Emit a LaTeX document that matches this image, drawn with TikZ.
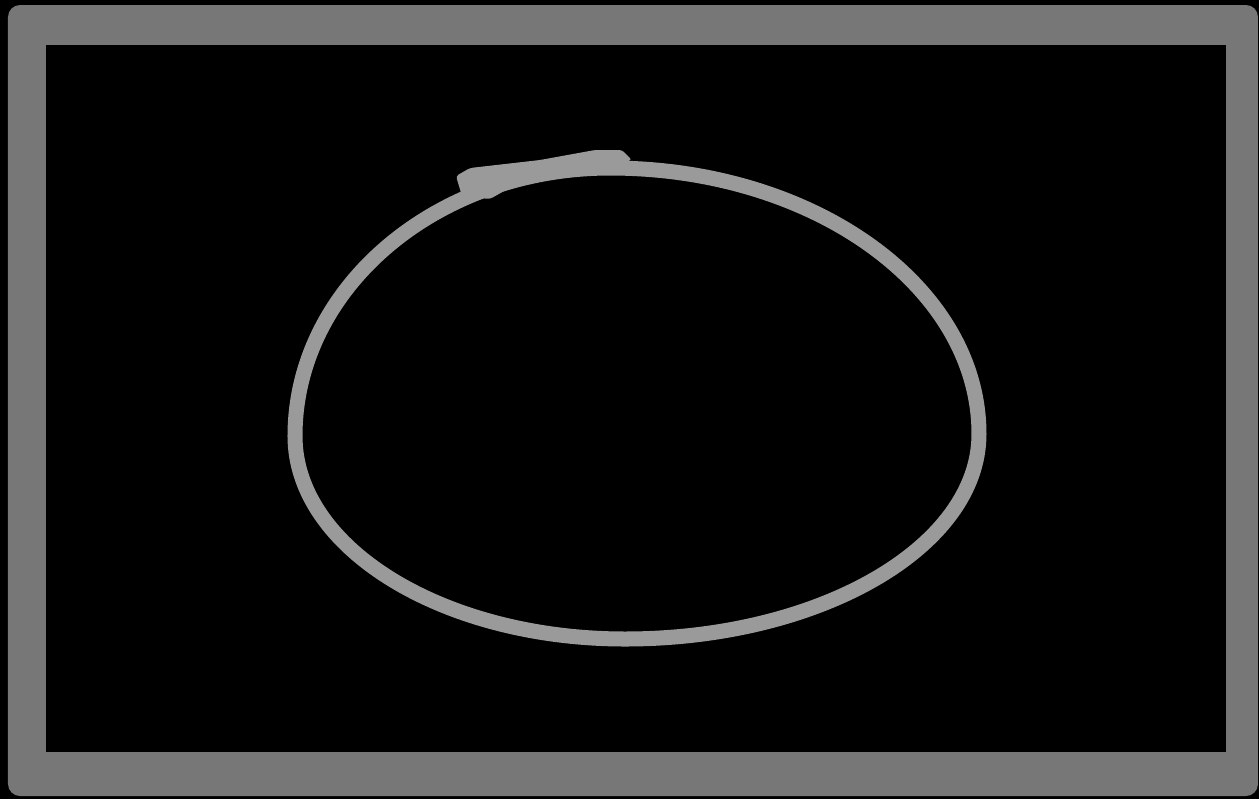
\documentclass[tikz,border=0pt]{standalone}
\definecolor{framegray}{HTML}{777777}
\definecolor{ringgray}{HTML}{9A9A9A}
\tikzset{
  px/.style={x=0.01cm,y=-0.01cm},
  ring/.style={draw=ringgray,line width=0.15cm},
}
\begin{document}
\begin{tikzpicture}[px]
\useasboundingbox (0,0) rectangle (1259,799);
\fill[black] (0,0) rectangle (1259,799);
% frame
\fill[framegray,rounded corners=0.12cm] (8,5) rectangle (1258,796);
\fill[black] (46,45) rectangle (1226,752);
% ring (egg-shaped loop)
\coordinate (L) at (295,436);
\coordinate (T) at (610,168);
\coordinate (R) at (979,434);
\coordinate (B) at (625,639);
\draw[ring] (L) .. controls (295,288) and (436,168) .. (T)
  .. controls (814,168) and (979,287) .. (R)
  .. controls (979,547) and (820,639) .. (B)
  .. controls (443,639) and (295,548) .. (L) -- cycle;
% blob at top
\fill[ringgray,rounded corners=0.03cm] (462,196) -- (456,176) -- (470,168) -- (540,160) -- (595,150) -- (622,150) -- (632,160) -- (600,168) -- (560,172) -- (520,182) -- (490,199) -- cycle;
\end{tikzpicture}
\end{document}
